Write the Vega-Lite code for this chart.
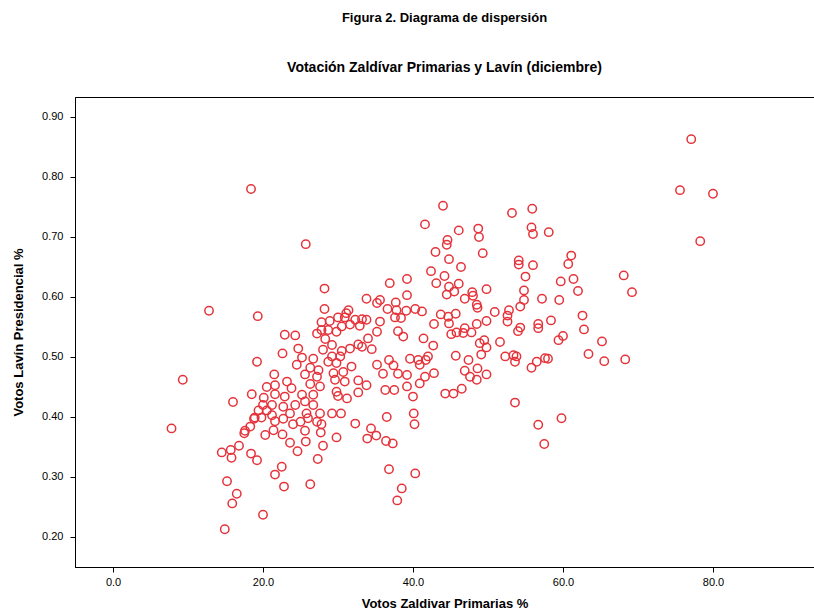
{
  "$schema": "https://vega.github.io/schema/vega-lite/v6.json",
  "autosize": "none",
  "width": 739,
  "height": 470,
  "padding": {"left": 75, "top": 97, "right": 0, "bottom": 47},
  "background": "white",
  "config": {
    "font": "Liberation Sans",
    "view": {"stroke": "black", "strokeWidth": 1}
  },
  "title": {
    "text": "Figura 2. Diagrama de dispersión",
    "subtitle": "Votación Zaldívar Primarias y Lavín (diciembre)",
    "anchor": "middle",
    "frame": "group",
    "font": "Liberation Sans",
    "fontSize": 13,
    "fontWeight": "bold",
    "color": "black",
    "subtitleFont": "Liberation Sans",
    "subtitleFontSize": 14,
    "subtitleFontWeight": "bold",
    "subtitleColor": "black",
    "subtitlePadding": 36,
    "offset": 22
  },
  "data": {"values": [
    {"zaldivar": 75.6, "lavin": 0.778}, {"zaldivar": 77.1, "lavin": 0.863}, {"zaldivar": 78.3, "lavin": 0.693}, {"zaldivar": 80.0, "lavin": 0.772},
    {"zaldivar": 18.4, "lavin": 0.780}, {"zaldivar": 25.7, "lavin": 0.688}, {"zaldivar": 28.2, "lavin": 0.614}, {"zaldivar": 36.9, "lavin": 0.623},
    {"zaldivar": 39.2, "lavin": 0.630}, {"zaldivar": 39.2, "lavin": 0.603}, {"zaldivar": 44.0, "lavin": 0.752}, {"zaldivar": 53.2, "lavin": 0.740},
    {"zaldivar": 55.9, "lavin": 0.747}, {"zaldivar": 41.6, "lavin": 0.721}, {"zaldivar": 46.1, "lavin": 0.711}, {"zaldivar": 48.7, "lavin": 0.714},
    {"zaldivar": 48.8, "lavin": 0.700}, {"zaldivar": 55.8, "lavin": 0.716}, {"zaldivar": 56.0, "lavin": 0.705}, {"zaldivar": 58.1, "lavin": 0.708},
    {"zaldivar": 44.6, "lavin": 0.695}, {"zaldivar": 44.5, "lavin": 0.687}, {"zaldivar": 43.0, "lavin": 0.675}, {"zaldivar": 49.3, "lavin": 0.673},
    {"zaldivar": 44.8, "lavin": 0.663}, {"zaldivar": 54.1, "lavin": 0.661}, {"zaldivar": 54.1, "lavin": 0.654}, {"zaldivar": 56.0, "lavin": 0.653},
    {"zaldivar": 46.4, "lavin": 0.650}, {"zaldivar": 42.4, "lavin": 0.643}, {"zaldivar": 44.2, "lavin": 0.635}, {"zaldivar": 55.0, "lavin": 0.634},
    {"zaldivar": 43.1, "lavin": 0.623}, {"zaldivar": 46.1, "lavin": 0.622}, {"zaldivar": 44.8, "lavin": 0.617}, {"zaldivar": 45.5, "lavin": 0.609},
    {"zaldivar": 47.9, "lavin": 0.608}, {"zaldivar": 49.8, "lavin": 0.613}, {"zaldivar": 54.8, "lavin": 0.611}, {"zaldivar": 44.5, "lavin": 0.604},
    {"zaldivar": 61.1, "lavin": 0.669}, {"zaldivar": 60.7, "lavin": 0.655}, {"zaldivar": 59.7, "lavin": 0.626}, {"zaldivar": 61.4, "lavin": 0.630},
    {"zaldivar": 62.0, "lavin": 0.610}, {"zaldivar": 68.1, "lavin": 0.636}, {"zaldivar": 69.2, "lavin": 0.608},
    {"zaldivar": 12.8, "lavin": 0.577}, {"zaldivar": 19.3, "lavin": 0.568}, {"zaldivar": 19.2, "lavin": 0.492}, {"zaldivar": 9.3, "lavin": 0.462},
    {"zaldivar": 21.5, "lavin": 0.471}, {"zaldivar": 20.5, "lavin": 0.450}, {"zaldivar": 21.6, "lavin": 0.453}, {"zaldivar": 18.5, "lavin": 0.438},
    {"zaldivar": 20.1, "lavin": 0.432}, {"zaldivar": 16.0, "lavin": 0.425}, {"zaldivar": 21.6, "lavin": 0.438}, {"zaldivar": 20.0, "lavin": 0.420},
    {"zaldivar": 21.2, "lavin": 0.420}, {"zaldivar": 19.4, "lavin": 0.411}, {"zaldivar": 20.5, "lavin": 0.411}, {"zaldivar": 18.9, "lavin": 0.399},
    {"zaldivar": 19.8, "lavin": 0.399}, {"zaldivar": 21.2, "lavin": 0.403},
    {"zaldivar": 33.8, "lavin": 0.597}, {"zaldivar": 35.6, "lavin": 0.595}, {"zaldivar": 35.2, "lavin": 0.590}, {"zaldivar": 37.7, "lavin": 0.591},
    {"zaldivar": 28.2, "lavin": 0.580}, {"zaldivar": 31.4, "lavin": 0.578}, {"zaldivar": 31.1, "lavin": 0.573}, {"zaldivar": 36.6, "lavin": 0.580},
    {"zaldivar": 37.8, "lavin": 0.578}, {"zaldivar": 37.6, "lavin": 0.566}, {"zaldivar": 38.4, "lavin": 0.565}, {"zaldivar": 30.0, "lavin": 0.566},
    {"zaldivar": 30.9, "lavin": 0.566}, {"zaldivar": 28.9, "lavin": 0.560}, {"zaldivar": 32.3, "lavin": 0.562}, {"zaldivar": 33.2, "lavin": 0.563},
    {"zaldivar": 33.8, "lavin": 0.562}, {"zaldivar": 27.8, "lavin": 0.558}, {"zaldivar": 31.6, "lavin": 0.554}, {"zaldivar": 32.9, "lavin": 0.552},
    {"zaldivar": 35.6, "lavin": 0.559}, {"zaldivar": 30.5, "lavin": 0.551}, {"zaldivar": 28.7, "lavin": 0.545}, {"zaldivar": 27.8, "lavin": 0.545},
    {"zaldivar": 29.8, "lavin": 0.542}, {"zaldivar": 27.2, "lavin": 0.539}, {"zaldivar": 35.2, "lavin": 0.542}, {"zaldivar": 38.0, "lavin": 0.543},
    {"zaldivar": 38.7, "lavin": 0.534}, {"zaldivar": 22.9, "lavin": 0.537}, {"zaldivar": 24.3, "lavin": 0.536}, {"zaldivar": 28.3, "lavin": 0.530},
    {"zaldivar": 34.0, "lavin": 0.531}, {"zaldivar": 32.7, "lavin": 0.521}, {"zaldivar": 33.2, "lavin": 0.517}, {"zaldivar": 34.5, "lavin": 0.513},
    {"zaldivar": 31.6, "lavin": 0.514}, {"zaldivar": 29.2, "lavin": 0.520}, {"zaldivar": 28.0, "lavin": 0.512}, {"zaldivar": 30.5, "lavin": 0.510},
    {"zaldivar": 24.7, "lavin": 0.514}, {"zaldivar": 25.2, "lavin": 0.499}, {"zaldivar": 22.6, "lavin": 0.506}, {"zaldivar": 26.7, "lavin": 0.497},
    {"zaldivar": 29.2, "lavin": 0.501}, {"zaldivar": 30.3, "lavin": 0.501}, {"zaldivar": 29.8, "lavin": 0.490}, {"zaldivar": 28.7, "lavin": 0.492},
    {"zaldivar": 24.5, "lavin": 0.487}, {"zaldivar": 26.3, "lavin": 0.482}, {"zaldivar": 27.4, "lavin": 0.478}, {"zaldivar": 31.8, "lavin": 0.484},
    {"zaldivar": 30.7, "lavin": 0.475}, {"zaldivar": 29.4, "lavin": 0.473}, {"zaldivar": 35.2, "lavin": 0.487}, {"zaldivar": 36.8, "lavin": 0.495},
    {"zaldivar": 37.4, "lavin": 0.486}, {"zaldivar": 36.0, "lavin": 0.472}, {"zaldivar": 38.0, "lavin": 0.472},
    {"zaldivar": 25.6, "lavin": 0.471}, {"zaldivar": 27.2, "lavin": 0.467}, {"zaldivar": 32.7, "lavin": 0.461}, {"zaldivar": 33.8, "lavin": 0.453},
    {"zaldivar": 30.9, "lavin": 0.459}, {"zaldivar": 29.6, "lavin": 0.462}, {"zaldivar": 23.2, "lavin": 0.459}, {"zaldivar": 23.8, "lavin": 0.448},
    {"zaldivar": 26.3, "lavin": 0.455}, {"zaldivar": 27.6, "lavin": 0.451}, {"zaldivar": 25.2, "lavin": 0.437}, {"zaldivar": 26.7, "lavin": 0.437},
    {"zaldivar": 25.6, "lavin": 0.426}, {"zaldivar": 22.9, "lavin": 0.434}, {"zaldivar": 22.7, "lavin": 0.417}, {"zaldivar": 24.3, "lavin": 0.420},
    {"zaldivar": 26.7, "lavin": 0.420}, {"zaldivar": 29.8, "lavin": 0.442}, {"zaldivar": 30.0, "lavin": 0.435}, {"zaldivar": 31.2, "lavin": 0.431},
    {"zaldivar": 32.7, "lavin": 0.441}, {"zaldivar": 36.3, "lavin": 0.445}, {"zaldivar": 37.5, "lavin": 0.445}, {"zaldivar": 27.6, "lavin": 0.406},
    {"zaldivar": 25.8, "lavin": 0.406}, {"zaldivar": 29.2, "lavin": 0.406}, {"zaldivar": 30.4, "lavin": 0.406}, {"zaldivar": 36.5, "lavin": 0.400},
    {"zaldivar": 23.6, "lavin": 0.406},
    {"zaldivar": 46.9, "lavin": 0.597}, {"zaldivar": 48.0, "lavin": 0.602}, {"zaldivar": 48.5, "lavin": 0.587}, {"zaldivar": 48.6, "lavin": 0.582},
    {"zaldivar": 54.8, "lavin": 0.595}, {"zaldivar": 54.3, "lavin": 0.584}, {"zaldivar": 57.2, "lavin": 0.597}, {"zaldivar": 40.3, "lavin": 0.580},
    {"zaldivar": 41.2, "lavin": 0.576}, {"zaldivar": 39.1, "lavin": 0.577}, {"zaldivar": 43.7, "lavin": 0.571}, {"zaldivar": 44.7, "lavin": 0.567},
    {"zaldivar": 45.7, "lavin": 0.572}, {"zaldivar": 50.9, "lavin": 0.575}, {"zaldivar": 52.8, "lavin": 0.578}, {"zaldivar": 52.6, "lavin": 0.569},
    {"zaldivar": 52.6, "lavin": 0.559}, {"zaldivar": 42.8, "lavin": 0.555}, {"zaldivar": 44.8, "lavin": 0.556}, {"zaldivar": 49.8, "lavin": 0.560},
    {"zaldivar": 48.5, "lavin": 0.555}, {"zaldivar": 56.7, "lavin": 0.555}, {"zaldivar": 56.7, "lavin": 0.548}, {"zaldivar": 54.3, "lavin": 0.549},
    {"zaldivar": 54.0, "lavin": 0.543}, {"zaldivar": 46.9, "lavin": 0.548}, {"zaldivar": 45.1, "lavin": 0.538}, {"zaldivar": 45.8, "lavin": 0.541},
    {"zaldivar": 46.7, "lavin": 0.540}, {"zaldivar": 47.8, "lavin": 0.541}, {"zaldivar": 41.4, "lavin": 0.531}, {"zaldivar": 42.7, "lavin": 0.519},
    {"zaldivar": 49.5, "lavin": 0.528}, {"zaldivar": 48.9, "lavin": 0.523}, {"zaldivar": 51.6, "lavin": 0.525}, {"zaldivar": 49.8, "lavin": 0.516},
    {"zaldivar": 49.1, "lavin": 0.504}, {"zaldivar": 45.7, "lavin": 0.502}, {"zaldivar": 47.4, "lavin": 0.495}, {"zaldivar": 39.6, "lavin": 0.497},
    {"zaldivar": 40.7, "lavin": 0.495}, {"zaldivar": 42.0, "lavin": 0.501}, {"zaldivar": 41.7, "lavin": 0.495}, {"zaldivar": 40.9, "lavin": 0.487},
    {"zaldivar": 52.3, "lavin": 0.501}, {"zaldivar": 53.4, "lavin": 0.503}, {"zaldivar": 53.8, "lavin": 0.501}, {"zaldivar": 53.6, "lavin": 0.492},
    {"zaldivar": 56.5, "lavin": 0.492}, {"zaldivar": 55.8, "lavin": 0.482}, {"zaldivar": 57.6, "lavin": 0.498}, {"zaldivar": 46.9, "lavin": 0.477},
    {"zaldivar": 48.6, "lavin": 0.481}, {"zaldivar": 49.8, "lavin": 0.471}, {"zaldivar": 47.6, "lavin": 0.467}, {"zaldivar": 48.5, "lavin": 0.462},
    {"zaldivar": 42.8, "lavin": 0.473}, {"zaldivar": 41.6, "lavin": 0.467}, {"zaldivar": 40.9, "lavin": 0.456}, {"zaldivar": 39.2, "lavin": 0.470},
    {"zaldivar": 39.2, "lavin": 0.451}, {"zaldivar": 46.5, "lavin": 0.447}, {"zaldivar": 45.4, "lavin": 0.439}, {"zaldivar": 44.3, "lavin": 0.439},
    {"zaldivar": 40.0, "lavin": 0.434}, {"zaldivar": 53.6, "lavin": 0.424}, {"zaldivar": 40.1, "lavin": 0.406},
    {"zaldivar": 59.5, "lavin": 0.595}, {"zaldivar": 62.6, "lavin": 0.569}, {"zaldivar": 58.4, "lavin": 0.561}, {"zaldivar": 62.8, "lavin": 0.546},
    {"zaldivar": 60.0, "lavin": 0.535}, {"zaldivar": 59.4, "lavin": 0.528}, {"zaldivar": 65.2, "lavin": 0.526}, {"zaldivar": 63.4, "lavin": 0.505},
    {"zaldivar": 65.5, "lavin": 0.493}, {"zaldivar": 68.3, "lavin": 0.496}, {"zaldivar": 58.0, "lavin": 0.497}, {"zaldivar": 59.8, "lavin": 0.398},
    {"zaldivar": 7.8, "lavin": 0.381}, {"zaldivar": 14.5, "lavin": 0.341}, {"zaldivar": 15.7, "lavin": 0.345}, {"zaldivar": 16.8, "lavin": 0.352},
    {"zaldivar": 15.8, "lavin": 0.332}, {"zaldivar": 18.4, "lavin": 0.339}, {"zaldivar": 19.2, "lavin": 0.328}, {"zaldivar": 15.2, "lavin": 0.293},
    {"zaldivar": 16.5, "lavin": 0.272}, {"zaldivar": 15.9, "lavin": 0.256}, {"zaldivar": 20.0, "lavin": 0.237}, {"zaldivar": 14.9, "lavin": 0.213},
    {"zaldivar": 18.8, "lavin": 0.397}, {"zaldivar": 18.3, "lavin": 0.384}, {"zaldivar": 17.6, "lavin": 0.377}, {"zaldivar": 17.5, "lavin": 0.373},
    {"zaldivar": 20.3, "lavin": 0.370}, {"zaldivar": 21.4, "lavin": 0.378}, {"zaldivar": 21.6, "lavin": 0.304},
    {"zaldivar": 21.6, "lavin": 0.393}, {"zaldivar": 22.7, "lavin": 0.397}, {"zaldivar": 24.0, "lavin": 0.388}, {"zaldivar": 25.0, "lavin": 0.392},
    {"zaldivar": 26.0, "lavin": 0.398}, {"zaldivar": 27.2, "lavin": 0.392}, {"zaldivar": 27.8, "lavin": 0.388}, {"zaldivar": 32.3, "lavin": 0.389},
    {"zaldivar": 22.6, "lavin": 0.371}, {"zaldivar": 25.6, "lavin": 0.377}, {"zaldivar": 27.7, "lavin": 0.374}, {"zaldivar": 29.8, "lavin": 0.366},
    {"zaldivar": 34.4, "lavin": 0.381}, {"zaldivar": 35.1, "lavin": 0.369}, {"zaldivar": 33.9, "lavin": 0.364}, {"zaldivar": 36.4, "lavin": 0.360},
    {"zaldivar": 37.3, "lavin": 0.356}, {"zaldivar": 23.6, "lavin": 0.357}, {"zaldivar": 25.7, "lavin": 0.359}, {"zaldivar": 28.0, "lavin": 0.352},
    {"zaldivar": 24.6, "lavin": 0.343}, {"zaldivar": 27.3, "lavin": 0.330}, {"zaldivar": 22.5, "lavin": 0.317}, {"zaldivar": 22.8, "lavin": 0.284},
    {"zaldivar": 26.3, "lavin": 0.288}, {"zaldivar": 36.8, "lavin": 0.313}, {"zaldivar": 38.5, "lavin": 0.281}, {"zaldivar": 37.9, "lavin": 0.261},
    {"zaldivar": 40.2, "lavin": 0.388}, {"zaldivar": 40.3, "lavin": 0.306}, {"zaldivar": 56.7, "lavin": 0.387}, {"zaldivar": 57.5, "lavin": 0.355}
  ]},
  "mark": {"type": "point", "shape": "circle", "filled": false, "stroke": "#e5333b", "strokeWidth": 1.5, "size": 70, "opacity": 1},
  "encoding": {
    "x": {
      "field": "zaldivar", "type": "quantitative",
      "scale": {"domain": [-5.07, 93.47], "nice": false, "zero": false},
      "axis": {
        "title": "Votos Zaldivar Primarias %",
        "values": [0, 20, 40, 60, 80],
        "format": ".1f",
        "grid": false,
        "domainColor": "black",
        "tickColor": "black",
        "tickSize": 5,
        "labelPadding": 4,
        "labelFontSize": 11,
        "labelColor": "black",
        "labelFont": "Liberation Sans",
        "titleFont": "Liberation Sans",
        "titleFontSize": 13,
        "titleFontWeight": "bold",
        "titleColor": "black",
        "titlePadding": 10
      }
    },
    "y": {
      "field": "lavin", "type": "quantitative",
      "scale": {"domain": [0.15, 0.9333], "nice": false, "zero": false},
      "axis": {
        "title": "Votos Lavín Presidencial %",
        "values": [0.2, 0.3, 0.4, 0.5, 0.6, 0.7, 0.8, 0.9],
        "format": ".2f",
        "grid": false,
        "domainColor": "black",
        "tickColor": "black",
        "tickSize": 5,
        "labelPadding": 7,
        "labelFontSize": 11,
        "labelColor": "black",
        "labelFont": "Liberation Sans",
        "titleFont": "Liberation Sans",
        "titleFontSize": 13,
        "titleFontWeight": "bold",
        "titleColor": "black",
        "titlePadding": 16
      }
    }
  }
}
